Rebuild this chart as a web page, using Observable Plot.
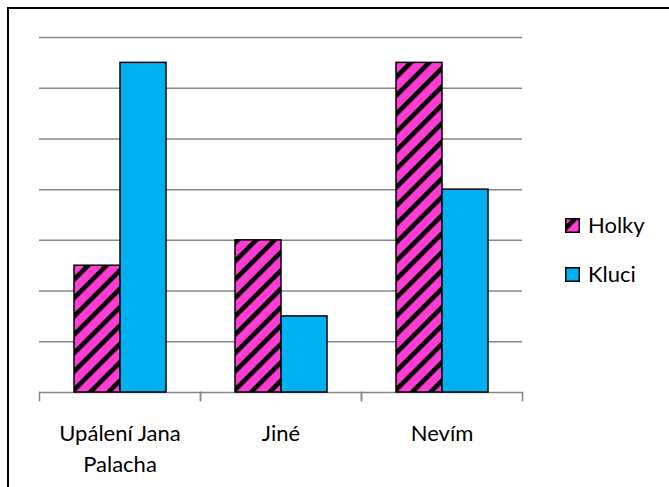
<!DOCTYPE html>
<html>
<head>
<meta charset="utf-8">
<script src="https://cdn.jsdelivr.net/npm/d3@7"></script>
<script src="https://cdn.jsdelivr.net/npm/@observablehq/plot@0.6"></script>
<style>
  html, body { margin: 0; padding: 0; background: #fff; overflow: hidden; }
  #wrap { position: relative; width: 669px; height: 487px; overflow: hidden; font-family: Lato, sans-serif; }
  #border { position: absolute; left: 7px; top: 7px; width: 2000px; height: 2000px; border: 2px solid #000; }
  #chart, #legend { position: absolute; left: 0; top: 0; }
</style>
</head>
<body>
<div id="wrap">
  <div id="border"></div>
  <div id="chart"></div>
  <svg id="legend" width="669" height="487" xmlns="http://www.w3.org/2000/svg">
    <defs>
      <pattern id="holky-stripes" patternUnits="userSpaceOnUse" width="13" height="13" patternTransform="rotate(45)">
        <rect width="13" height="13" fill="#FF3DD4"></rect>
        <rect width="4.6" height="13" fill="#000"></rect>
      </pattern>
    </defs>
  </svg>
</div>
<script>
// ---- data ----
const categories = ["Upálení Jana Palacha", "Jiné", "Nevím"];
const tickLabels = ["Upálení Jana\nPalacha", "Jiné", "Nevím"];
const series = ["Holky", "Kluci"];
const holky = [5, 6, 13];
const kluci = [13, 3, 8];
const yTicks = [0, 2, 4, 6, 8, 10, 12, 14];

const seriesValues = {Holky: holky, Kluci: kluci};
const seriesFill = {Holky: "url(#holky-stripes)", Kluci: "#00B0F0"};

const data = categories.flatMap((c, i) =>
  series.map(s => ({cat: c, series: s, value: seriesValues[s][i]}))
);

const W = 669, H = 487;
const mL = 38, mR = 147, mT = 37, mB = 95;
const innerH = H - mT - mB;

const chart = Plot.plot({
  width: W,
  height: H,
  marginLeft: mL,
  marginRight: mR,
  marginTop: mT,
  marginBottom: mB,
  style: {fontFamily: "Lato, sans-serif", fontSize: "22px", color: "#000", background: "transparent", overflow: "visible"},
  fx: {domain: categories, padding: 0, label: null},
  x: {domain: series, paddingInner: 0, paddingOuter: 0.735, axis: null},
  y: {domain: [0, 14], axis: null},
  marks: [
    Plot.gridY(yTicks, {stroke: "#868686", strokeOpacity: 1, strokeWidth: 1.5}),
    Plot.frame({anchor: "left", stroke: "#868686", strokeWidth: 1.5, insetTop: innerH, insetBottom: -8}),
    Plot.frame({anchor: "right", stroke: "#868686", strokeWidth: 1.5, insetTop: innerH, insetBottom: -8}),
    ...series.map(s =>
      Plot.barY(data.filter(d => d.series === s), {
        fx: "cat", x: "series", y: "value",
        fill: seriesFill[s], stroke: "#000", strokeWidth: 1.5, inset: 0
      })
    ),
    Plot.axisFx({
      anchor: "bottom", tickSize: 0, tickPadding: 27, lineHeight: 1.4,
      fontSize: 22, label: null,
      tickFormat: d => tickLabels[categories.indexOf(d)]
    })
  ]
});
document.getElementById("chart").appendChild(chart);

// legend
const legend = d3.select("#legend");
series.forEach((s, i) => {
  const y0 = 218 + i * 49;
  legend.append("rect")
    .attr("x", 565.75).attr("y", y0 + 0.75)
    .attr("width", 13.5).attr("height", 13.5)
    .attr("fill", seriesFill[s]).attr("stroke", "#000").attr("stroke-width", 1.5);
  legend.append("text")
    .attr("x", 588).attr("y", y0 + 15)
    .attr("font-family", "Lato, sans-serif").attr("font-size", 22)
    .attr("fill", "#000")
    .text(s);
});
</script>
</body>
</html>
